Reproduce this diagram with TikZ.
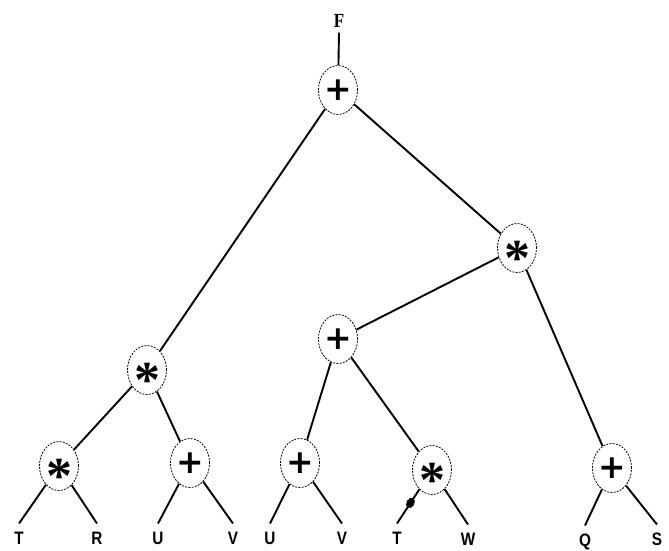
\documentclass[tikz,border=0pt]{standalone}
\usepackage{fontspec}
\newfontfamily\labfont{Liberation Sans}
\newfontfamily\topfont{Liberation Serif}
\newfontfamily\opfont{DejaVu Sans}
\usetikzlibrary{shapes.geometric}
\tikzset{
  op/.style={ellipse, draw, line width=0.8pt, dash pattern=on 2pt off 1.2pt,
    minimum width=39pt, minimum height=49pt, inner sep=0pt},
  plusop/.style={op, font=\opfont\bfseries\fontsize{33}{33}\selectfont},
  starop/.style={op, font=\topfont\bfseries\fontsize{52}{52}\selectfont},
  leaf/.style={font=\labfont\bfseries\fontsize{18}{18}\selectfont, inner sep=0pt,
    outer sep=8pt, text height=13pt, text depth=0pt},
  dot/.style={ellipse, fill, inner sep=0pt, minimum width=8pt, minimum height=11pt, rotate=-30}
}
\newcommand{\opstar}{\smash{\raisebox{-0.52em}{*}}}
\newcommand{\nar}[1]{\scalebox{0.85}[1]{#1}}

\begin{document}
\begin{tikzpicture}[x=1pt, y=-1pt, line width=1.9pt]
  \useasboundingbox (0,0) rectangle (669,550);
  % operators
  \node[plusop] (root) at (338,90) {+};
  \node[starop] (rs) at (517,248) {\opstar};
  \node[plusop] (mp) at (338,339) {+};
  \node[starop] (ls) at (147,370) {\opstar};
  \node[starop] (l1) at (59,466) {\opstar};
  \node[plusop] (l2) at (190,463) {+};
  \node[plusop] (l3) at (300,463) {+};
  \node[starop] (l4) at (432,470) {\opstar};
  \node[plusop] (l5) at (612,468) {+};
  % operands
  \node[font=\topfont\bfseries\fontsize{20}{20}\selectfont, inner sep=0pt, outer sep=5pt] (f) at (339,21) {\nar{F}};
  \node[leaf] (t1) at (19,538) {\nar{T}};
  \node[leaf] (t2) at (97,538) {\nar{R}};
  \node[leaf] (t3) at (158,538) {\nar{U}};
  \node[leaf] (t4) at (233,538) {\nar{V}};
  \node[leaf] (t5) at (270,538) {\nar{U}};
  \node[leaf] (t6) at (342,538) {\nar{V}};
  \node[leaf] (t7) at (397,538) {\nar{T}};
  \node[leaf] (t8) at (468,539) {\nar{W}};
  \node[leaf] (t9) at (585,540) {\nar{Q}};
  \node[leaf] (t10) at (657,539) {\nar{S}};
  % edges
  \draw (f.south) -- (root);
  \draw (root) -- (ls); \draw (root) -- (rs);
  \draw (rs) -- (mp); \draw (rs) -- (l5);
  \draw (ls) -- (l1); \draw (ls) -- (l2);
  \draw (mp) -- (l3); \draw (mp) -- (l4);
  \draw (l1) -- (t1.north); \draw (l1) -- (t2.north);
  \draw (l2) -- (t3.north); \draw (l2) -- (t4.north);
  \draw (l3) -- (t5.north); \draw (l3) -- (t6.north);
  \draw (l4) -- node[dot, pos=0.4]{} (t7.north); \draw (l4) -- (t8.north);
  \draw (l5) -- (t9.north); \draw (l5) -- (t10.north);
\end{tikzpicture}
\end{document}
